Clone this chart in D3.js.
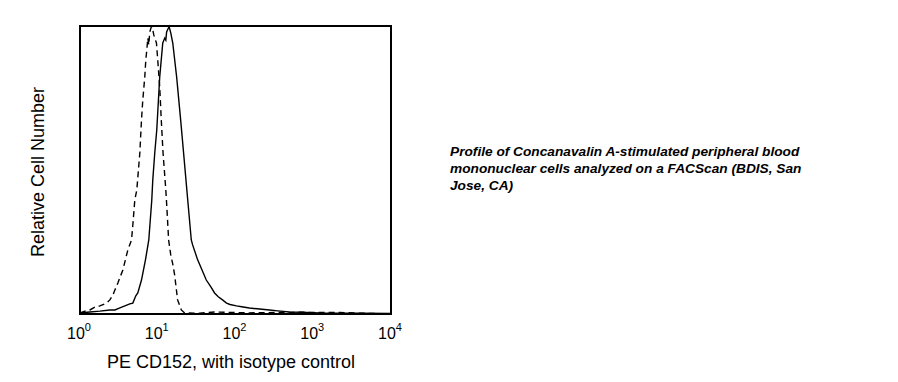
<!DOCTYPE html>
<html><head><meta charset="utf-8">
<script src="https://cdn.jsdelivr.net/npm/d3@7"></script>
<style>
body{margin:0;background:#fff;}
svg{display:block;font-family:"Liberation Sans",Arial,sans-serif;}
</style></head>
<body><svg id="c" width="898" height="382"></svg>
<script>
// Stained sample (solid): fluorescence intensity and relative count
const stainedIntensity = [1,1.34,1.8,2.42,2.81,3.26,3.78,4.37,4.78,5.22,5.54,6.18,6.95,7.67,8.38,8.63,9.15,9.71,10.6,11.6,12.3,12.7,13.0,14.0,14.7,15.6,17.5,19.7,21.5,24.3,27.0,28.1,32.6,42.1,48,53.8,60,68.1,76.7,85,103,120,151,190,273,350,492,700,1194,2000,4000,10000];
const stainedCount     = [0.35,0.7,1.0,1.4,1.4,2.1,2.8,3.5,3.8,6.3,7.3,11.8,18.8,25.7,39.6,46.5,55.9,63.9,82.3,94.1,95.8,95.1,97.9,99.8,97.6,94.1,82.3,67.4,55.9,39.6,25.7,24.0,18.8,11.8,9.5,7.3,6.0,4.9,3.8,3.3,2.8,2.5,2.1,1.8,1.4,1.1,0.7,0.6,0.35,0.3,0.3,0.2];
// Isotype control (dashed)
const isotypeIntensity = [1,1.16,1.34,1.56,1.8,2.2,2.42,2.65,2.81,3.07,3.56,4.12,4.6,4.78,5.07,5.38,5.88,6.18,6.42,6.81,7.02,7.23,7.45,7.67,7.89,8.26,8.5,8.89,9.62,10.0,10.6,11.1,11.7,12.7,13.0,13.8,14.7,15.7,16.5,18.0,20.1,22.2,34.5,53.8,151,661,2150,10000];
const isotypeCount     = [0.35,1.0,1.4,2.4,2.8,3.8,4.9,6.6,8.3,10.8,15.3,22.2,25.7,30.9,39.6,43.1,55.9,67.4,74.3,82.3,88.2,91.7,95.8,93.4,97.9,99.7,99.7,96.9,94.1,88.2,78.8,67.4,55.9,43.1,38.5,25.7,20.5,17.0,13.5,4.9,1.4,0.35,0.3,0.7,0.4,0.6,0.5,0];
const xTickValues = [1,10,100,1000,10000];
const xTickExponents = ["0","1","2","3","4"];
const xTitle = "PE CD152, with isotype control";
const yTitle = "Relative Cell Number";
const noteLines = ["Profile of Concanavalin A-stimulated peripheral blood","mononuclear cells analyzed on a FACScan (BDIS, San","Jose, CA)"];

const svg = d3.select("#c");
const L=80, R=391, T=26, B=314;
const x = d3.scaleLog().domain([1,10000]).range([L,R]);
const y = d3.scaleLinear().domain([0,100]).range([B,T]);

const line = d3.line().x(d=>x(d[0])).y(d=>y(d[1]));
const stained = stainedIntensity.map((v,i)=>[v,stainedCount[i]]);
const isotype = isotypeIntensity.map((v,i)=>[v,isotypeCount[i]]);

svg.append("path").attr("d",line(isotype)).attr("fill","none").attr("stroke","#000")
  .attr("stroke-width",1.4).attr("stroke-dasharray","6,4");
svg.append("path").attr("d",line(stained)).attr("fill","none").attr("stroke","#000")
  .attr("stroke-width",1.4);

svg.append("rect").attr("x",L).attr("y",T).attr("width",R-L).attr("height",B-T)
  .attr("fill","none").attr("stroke","#000").attr("stroke-width",2);

// tick labels
const tl = svg.append("g");
xTickValues.forEach((v,i)=>{
  const t = tl.append("text").attr("x",x(v)-1).attr("y",339).attr("text-anchor","middle")
    .attr("font-size",16).attr("fill","#000");
  t.append("tspan").text("10");
  t.append("tspan").attr("font-size",11).attr("dy",-8).text(xTickExponents[i]);
});

svg.append("text").attr("x",231).attr("y",368).attr("text-anchor","middle")
  .attr("font-size",18).text(xTitle);
svg.append("text").attr("transform","translate(44,172) rotate(-90)").attr("text-anchor","middle")
  .attr("font-size",18).text(yTitle);

const note = svg.append("text").attr("x",450).attr("y",156).attr("font-size",13.7)
  .attr("font-weight","bold").attr("font-style","italic");
noteLines.forEach((s,i)=>note.append("tspan").attr("x",450).attr("dy",i?17:0).text(s));
</script></body></html>
